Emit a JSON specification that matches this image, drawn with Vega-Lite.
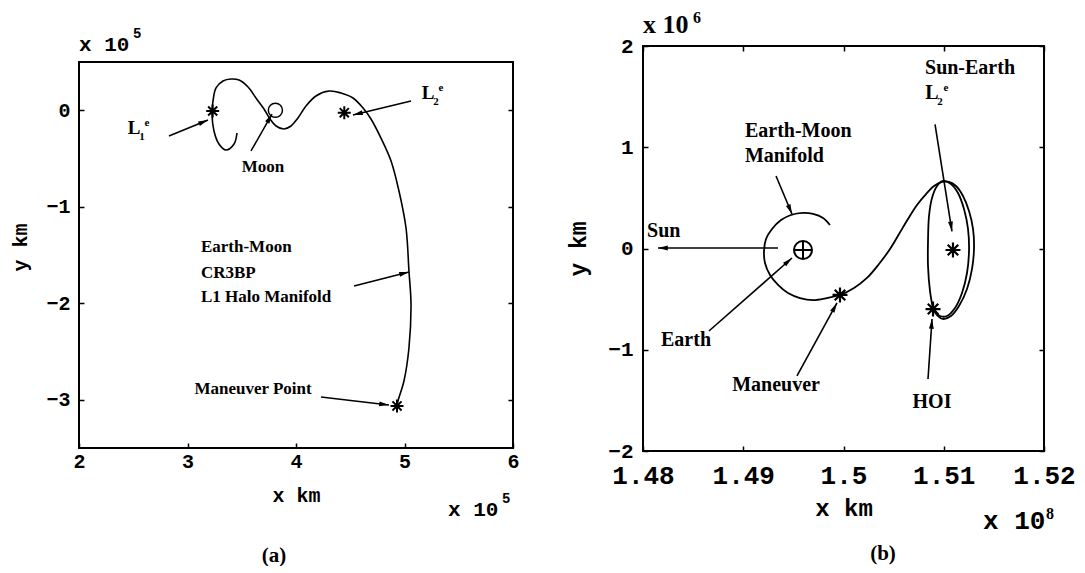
{
  "$schema": "https://vega.github.io/schema/vega-lite/v6.json",
  "background": "white",
  "padding": {"left": 10, "top": 9, "right": 0, "bottom": 0},
  "bounds": "flush",
  "spacing": 130,
  "config": {"view": {"stroke": null}, "axis": {"grid": false}},
  "hconcat": [
    {
      "width": 434,
      "height": 402,
      "resolve": {"axis": {"y": "independent"}},
      "layer": [
        {
          "data": {"values": [{}]},
          "mark": {"type": "rect", "fill": "transparent", "stroke": "black", "strokeWidth": 2},
          "encoding": {
            "x": {"datum": 2, "type": "quantitative", "scale": {"domain": [2, 6]}},
            "x2": {"datum": 6},
            "y": {"datum": -3.5, "type": "quantitative", "scale": {"domain": [-3.5, 0.6658]}, "axis": null},
            "y2": {"datum": 0.5}
          }
        },
        {
          "data": {"values": [
            {"i":0,"x":3.456,"y":-0.236},{"i":1,"x":3.429,"y":-0.350},{"i":2,"x":3.355,"y":-0.412},{"i":3,"x":3.290,"y":-0.350},
            {"i":4,"x":3.244,"y":-0.215},{"i":5,"x":3.226,"y":-0.039},{"i":6,"x":3.235,"y":0.096},{"i":7,"x":3.263,"y":0.231},
            {"i":8,"x":3.327,"y":0.303},{"i":9,"x":3.401,"y":0.324},{"i":10,"x":3.475,"y":0.313},{"i":11,"x":3.558,"y":0.241},
            {"i":12,"x":3.631,"y":0.127},{"i":13,"x":3.705,"y":0.013},{"i":14,"x":3.760,"y":-0.091},{"i":15,"x":3.816,"y":-0.163},
            {"i":16,"x":3.889,"y":-0.194},{"i":17,"x":3.954,"y":-0.163},{"i":18,"x":4.018,"y":-0.080},{"i":19,"x":4.092,"y":0.044},
            {"i":20,"x":4.184,"y":0.148},{"i":21,"x":4.304,"y":0.199},{"i":22,"x":4.415,"y":0.179},{"i":23,"x":4.525,"y":0.127},
            {"i":24,"x":4.618,"y":0.023},{"i":25,"x":4.691,"y":-0.091},{"i":26,"x":4.783,"y":-0.288},{"i":27,"x":4.876,"y":-0.526},
            {"i":28,"x":4.949,"y":-0.837},{"i":29,"x":5.014,"y":-1.220},{"i":30,"x":5.041,"y":-1.666},{"i":31,"x":5.060,"y":-2.008},
            {"i":32,"x":5.041,"y":-2.464},{"i":33,"x":4.995,"y":-2.806},{"i":34,"x":4.940,"y":-3.013},{"i":35,"x":4.931,"y":-3.065}
          ]},
          "mark": {"type": "line", "color": "black", "strokeWidth": 1.6, "interpolate": "catmull-rom"},
          "encoding": {
            "x": {"field": "x", "type": "quantitative", "scale": {"domain": [2, 6]},
              "axis": {"values": [2, 3, 4, 5, 6], "format": "d", "domain": false, "tickSize": -5, "tickWidth": 1.5, "tickColor": "black",
                "labelFont": "Liberation Mono", "labelFontWeight": "bold", "labelFontSize": 20, "labelColor": "black", "labelPadding": 8,
                "labelFlush": false, "labelOverlap": false,
                "title": "x km", "titleFont": "Liberation Mono", "titleFontWeight": "bold", "titleFontSize": 20, "titleColor": "black", "titlePadding": 14}},
            "y": {"field": "y", "type": "quantitative", "scale": {"domain": [-3.5, 0.6658]},
              "axis": {"values": [-3, -2, -1, 0], "format": "d", "domain": false, "tickSize": -5, "tickWidth": 1.5, "tickColor": "black",
                "labelFont": "Liberation Mono", "labelFontWeight": "bold", "labelFontSize": 20, "labelColor": "black", "labelPadding": 14,
                "labelFlush": false, "labelOverlap": false,
                "title": "y km", "titleFont": "Liberation Mono", "titleFontWeight": "bold", "titleFontSize": 20, "titleColor": "black", "titlePadding": 15}},
            "order": {"field": "i", "type": "quantitative"}
          }
        },
        {
          "data": {"values": [{"x": 3.81, "y": 0.0}]},
          "mark": {"type": "point", "shape": "circle", "size": 200, "filled": false, "color": "black", "strokeWidth": 1.5, "opacity": 1},
          "encoding": {
            "x": {"field": "x", "type": "quantitative", "scale": {"domain": [2, 6]}},
            "y": {"field": "y", "type": "quantitative", "scale": {"domain": [-3.5, 0.6658]},
              "axis": {"orient": "right", "values": [-3, -2, -1, 0], "labels": false, "domain": false, "tickSize": -5, "tickWidth": 1.5, "tickColor": "black", "title": null}}
          }
        },
        {
          "data": {"values": [{"x": 3.232, "y": -0.008}, {"x": 4.445, "y": -0.025}, {"x": 4.931, "y": -3.064}]},
          "mark": {"type": "point", "shape": "M0,-1L0,1M-1,0L1,0M-0.7,-0.7L0.7,0.7M-0.7,0.7L0.7,-0.7", "size": 169, "filled": false, "color": "black", "strokeWidth": 2, "opacity": 1},
          "encoding": {
            "x": {"field": "x", "type": "quantitative", "scale": {"domain": [2, 6]}},
            "y": {"field": "y", "type": "quantitative", "scale": {"domain": [-3.5, 0.6658]}, "axis": null}
          }
        },
        {
          "data": {"values": [
            {"x": 2.829, "y": -0.267, "x2": 3.189, "y2": -0.101, "ang": 67.7},
            {"x": 3.585, "y": -0.422, "x2": 3.779, "y2": -0.039, "ang": 29.6},
            {"x": 5.060, "y": 0.096, "x2": 4.525, "y2": -0.049, "ang": 256.4},
            {"x": 4.535, "y": -1.821, "x2": 5.041, "y2": -1.676, "ang": 75.7},
            {"x": 4.230, "y": -2.972, "x2": 4.857, "y2": -3.055, "ang": 96.7}
          ]},
          "layer": [
            {
              "mark": {"type": "rule", "color": "black", "strokeWidth": 1.5},
              "encoding": {
                "x": {"field": "x", "type": "quantitative", "scale": {"domain": [2, 6]}},
                "y": {"field": "y", "type": "quantitative", "scale": {"domain": [-3.5, 0.6658]}, "axis": null},
                "x2": {"field": "x2"},
                "y2": {"field": "y2"}
              }
            },
            {
              "mark": {"type": "point", "shape": "M0,0L0.4,1.6L-0.4,1.6Z", "size": 150, "filled": true, "color": "black", "opacity": 1},
              "encoding": {
                "x": {"field": "x2", "type": "quantitative", "scale": {"domain": [2, 6]}},
                "y": {"field": "y2", "type": "quantitative", "scale": {"domain": [-3.5, 0.6658]}, "axis": null},
                "angle": {"field": "ang", "type": "quantitative", "scale": null}
              }
            }
          ]
        },
        {
          "data": {"values": [
            {"x": 3.696, "y": -0.588, "t": "Moon"},
            {"x": 3.604, "y": -2.889, "t": "Maneuver Point"}
          ]},
          "mark": {"type": "text", "align": "center", "baseline": "middle", "font": "Liberation Serif", "fontWeight": "bold", "fontSize": 17, "color": "black"},
          "encoding": {
            "x": {"field": "x", "type": "quantitative", "scale": {"domain": [2, 6]}},
            "y": {"field": "y", "type": "quantitative", "scale": {"domain": [-3.5, 0.6658]}, "axis": null},
            "text": {"field": "t"}
          }
        },
        {
          "data": {"values": [
            {"x": 3.124, "y": -1.417, "t": "Earth-Moon"},
            {"x": 3.124, "y": -1.687, "t": "CR3BP"},
            {"x": 3.124, "y": -1.935, "t": "L1 Halo Manifold"}
          ]},
          "mark": {"type": "text", "align": "left", "baseline": "middle", "font": "Liberation Serif", "fontWeight": "bold", "fontSize": 17, "color": "black"},
          "encoding": {
            "x": {"field": "x", "type": "quantitative", "scale": {"domain": [2, 6]}},
            "y": {"field": "y", "type": "quantitative", "scale": {"domain": [-3.5, 0.6658]}, "axis": null},
            "text": {"field": "t"}
          }
        },
        {
          "data": {"values": [{"x": 2.507, "y": -0.184, "s": "1"}, {"x": 5.217, "y": 0.179, "s": "2"}]},
          "layer": [
            {
              "mark": {"type": "text", "text": "L", "align": "center", "baseline": "middle", "font": "Liberation Serif", "fontWeight": "bold", "fontSize": 19, "color": "black"},
              "encoding": {"x": {"field": "x", "type": "quantitative", "scale": {"domain": [2, 6]}}, "y": {"field": "y", "type": "quantitative", "scale": {"domain": [-3.5, 0.6658]}, "axis": null}}
            },
            {
              "mark": {"type": "text", "align": "center", "baseline": "middle", "dx": 8, "dy": 9, "font": "Liberation Serif", "fontWeight": "bold", "fontSize": 11, "color": "black"},
              "encoding": {"x": {"field": "x", "type": "quantitative", "scale": {"domain": [2, 6]}}, "y": {"field": "y", "type": "quantitative", "scale": {"domain": [-3.5, 0.6658]}, "axis": null}, "text": {"field": "s"}}
            },
            {
              "mark": {"type": "text", "text": "e", "align": "center", "baseline": "middle", "dx": 13, "dy": -5, "font": "Liberation Serif", "fontWeight": "bold", "fontSize": 11, "color": "black"},
              "encoding": {"x": {"field": "x", "type": "quantitative", "scale": {"domain": [2, 6]}}, "y": {"field": "y", "type": "quantitative", "scale": {"domain": [-3.5, 0.6658]}, "axis": null}}
            }
          ]
        },
        {
          "data": {"values": [{"x": 2.0, "y": 0.614, "b": "x 10", "e": "5"}, {"x": 5.401, "y": -4.205, "b": "x 10", "e": "5"}]},
          "layer": [
            {
              "mark": {"type": "text", "align": "left", "baseline": "alphabetic", "font": "Liberation Mono", "fontWeight": "bold", "fontSize": 21, "color": "black"},
              "encoding": {"x": {"field": "x", "type": "quantitative", "scale": {"domain": [2, 6]}}, "y": {"field": "y", "type": "quantitative", "scale": {"domain": [-3.5, 0.6658]}, "axis": null}, "text": {"field": "b"}}
            },
            {
              "mark": {"type": "text", "align": "left", "baseline": "alphabetic", "dx": 54, "dy": -13, "font": "Liberation Mono", "fontWeight": "bold", "fontSize": 14, "color": "black"},
              "encoding": {"x": {"field": "x", "type": "quantitative", "scale": {"domain": [2, 6]}}, "y": {"field": "y", "type": "quantitative", "scale": {"domain": [-3.5, 0.6658]}, "axis": null}, "text": {"field": "e"}}
            }
          ]
        },
        {
          "data": {"values": [{"x": 3.797, "y": -4.619, "t": "(a)"}]},
          "mark": {"type": "text", "align": "center", "baseline": "middle", "font": "Liberation Serif", "fontWeight": "bold", "fontSize": 21, "color": "black"},
          "encoding": {
            "x": {"field": "x", "type": "quantitative", "scale": {"domain": [2, 6]}},
            "y": {"field": "y", "type": "quantitative", "scale": {"domain": [-3.5, 0.6658]}, "axis": null},
            "text": {"field": "t"}
          }
        }
      ]
    },
    {
      "width": 401,
      "height": 405,
      "view": {"stroke": "black", "strokeWidth": 2},
      "resolve": {"axis": {"x": "independent", "y": "independent"}},
      "layer": [
        {
          "data": {"values": [
            {"i":0,"s":"t","x":1.49865,"y":0.232},{"i":1,"s":"t","x":1.49796,"y":0.301},{"i":2,"s":"t","x":1.49696,"y":0.341},
            {"i":3,"s":"t","x":1.49596,"y":0.351},{"i":4,"s":"t","x":1.49476,"y":0.331},{"i":5,"s":"t","x":1.49377,"y":0.281},
            {"i":6,"s":"t","x":1.49287,"y":0.193},{"i":7,"s":"t","x":1.49227,"y":0.094},{"i":8,"s":"t","x":1.49207,"y":-0.025},
            {"i":9,"s":"t","x":1.49217,"y":-0.143},{"i":10,"s":"t","x":1.49267,"y":-0.262},{"i":11,"s":"t","x":1.49347,"y":-0.360},
            {"i":12,"s":"t","x":1.49446,"y":-0.440},{"i":13,"s":"t","x":1.49566,"y":-0.489},{"i":14,"s":"t","x":1.49696,"y":-0.509},
            {"i":15,"s":"t","x":1.49835,"y":-0.489},{"i":16,"s":"t","x":1.49965,"y":-0.459},{"i":17,"s":"t","x":1.50105,"y":-0.390},
            {"i":18,"s":"t","x":1.50234,"y":-0.291},{"i":19,"s":"t","x":1.50354,"y":-0.153},{"i":20,"s":"t","x":1.50464,"y":-0.005},
            {"i":21,"s":"t","x":1.50554,"y":0.143},{"i":22,"s":"t","x":1.50643,"y":0.291},{"i":23,"s":"t","x":1.50733,"y":0.430},
            {"i":24,"s":"t","x":1.50823,"y":0.538},{"i":25,"s":"t","x":1.50903,"y":0.617},{"i":26,"s":"t","x":1.50983,"y":0.657},
            {"i":27,"s":"t","x":1.51052,"y":0.657},{"i":28,"s":"t","x":1.51122,"y":0.617},{"i":29,"s":"t","x":1.51192,"y":0.519},
            {"i":30,"s":"t","x":1.51252,"y":0.370},{"i":31,"s":"t","x":1.51292,"y":0.193},{"i":32,"s":"t","x":1.51302,"y":0.005},
            {"i":33,"s":"t","x":1.51282,"y":-0.202},{"i":34,"s":"t","x":1.51232,"y":-0.400},{"i":35,"s":"t","x":1.51152,"y":-0.568},
            {"i":36,"s":"t","x":1.51072,"y":-0.667},{"i":37,"s":"t","x":1.50993,"y":-0.696},{"i":38,"s":"t","x":1.50933,"y":-0.657},
            {"i":39,"s":"t","x":1.50893,"y":-0.598},
            {"i":0,"s":"h","x":1.50893,"y":-0.598},{"i":1,"s":"h","x":1.50863,"y":-0.420},{"i":2,"s":"h","x":1.50843,"y":-0.173},
            {"i":3,"s":"h","x":1.50843,"y":0.074},{"i":4,"s":"h","x":1.50853,"y":0.321},{"i":5,"s":"h","x":1.50883,"y":0.499},
            {"i":6,"s":"h","x":1.50933,"y":0.617},{"i":7,"s":"h","x":1.50993,"y":0.667},{"i":8,"s":"h","x":1.51072,"y":0.637},
            {"i":9,"s":"h","x":1.51142,"y":0.548},{"i":10,"s":"h","x":1.51202,"y":0.390},{"i":11,"s":"h","x":1.51242,"y":0.193},
            {"i":12,"s":"h","x":1.51252,"y":-0.025},{"i":13,"s":"h","x":1.51232,"y":-0.242},{"i":14,"s":"h","x":1.51182,"y":-0.440},
            {"i":15,"s":"h","x":1.51112,"y":-0.588},{"i":16,"s":"h","x":1.51032,"y":-0.667},{"i":17,"s":"h","x":1.50963,"y":-0.667},
            {"i":18,"s":"h","x":1.50903,"y":-0.607}
          ]},
          "mark": {"type": "line", "color": "black", "strokeWidth": 1.8, "interpolate": "catmull-rom"},
          "encoding": {
            "x": {"field": "x", "type": "quantitative", "scale": {"domain": [1.48, 1.52]},
              "axis": {"values": [1.48, 1.49, 1.5, 1.51, 1.52], "format": "~g", "domain": false, "tickSize": -5, "tickWidth": 1.5, "tickColor": "black",
                "labelFont": "Liberation Mono", "labelFontWeight": "bold", "labelFontSize": 26, "labelColor": "black", "labelPadding": 16,
                "labelFlush": false, "labelOverlap": false,
                "title": "x km", "titleFont": "Liberation Mono", "titleFontWeight": "bold", "titleFontSize": 24, "titleColor": "black", "titlePadding": 8}},
            "y": {"field": "y", "type": "quantitative", "scale": {"domain": [-2, 2]},
              "axis": {"values": [-2, -1, 0, 1, 2], "format": "d", "domain": false, "tickSize": -5, "tickWidth": 1.5, "tickColor": "black",
                "labelFont": "Liberation Mono", "labelFontWeight": "bold", "labelFontSize": 21, "labelColor": "black", "labelPadding": 15,
                "labelFlush": false, "labelOverlap": false,
                "title": "y km", "titleFont": "Liberation Mono", "titleFontWeight": "bold", "titleFontSize": 23, "titleColor": "black", "titlePadding": 17}},
            "detail": {"field": "s"},
            "order": {"field": "i", "type": "quantitative"}
          }
        },
        {
          "data": {"values": [{"x": 1.49596, "y": -0.015}]},
          "mark": {"type": "point", "shape": "M-1,0A1,1,0,1,0,1,0A1,1,0,1,0,-1,0ZM-1,0L1,0M0,-1L0,1", "size": 324, "filled": false, "color": "black", "strokeWidth": 2, "opacity": 1},
          "encoding": {
            "x": {"field": "x", "type": "quantitative", "scale": {"domain": [1.48, 1.52]},
              "axis": {"orient": "top", "values": [1.48, 1.49, 1.5, 1.51, 1.52], "labels": false, "domain": false, "tickSize": -5, "tickWidth": 1.5, "tickColor": "black", "title": null}},
            "y": {"field": "y", "type": "quantitative", "scale": {"domain": [-2, 2]},
              "axis": {"orient": "right", "values": [-2, -1, 0, 1, 2], "labels": false, "domain": false, "tickSize": -5, "tickWidth": 1.5, "tickColor": "black", "title": null}}
          }
        },
        {
          "data": {"values": [{"x": 1.51092, "y": -0.015}, {"x": 1.49965, "y": -0.459}, {"x": 1.50893, "y": -0.598}]},
          "mark": {"type": "point", "shape": "M0,-1L0,1M-1,0L1,0M-0.7,-0.7L0.7,0.7M-0.7,0.7L0.7,-0.7", "size": 225, "filled": false, "color": "black", "strokeWidth": 2.2, "opacity": 1},
          "encoding": {
            "x": {"field": "x", "type": "quantitative", "scale": {"domain": [1.48, 1.52]}, "axis": null},
            "y": {"field": "y", "type": "quantitative", "scale": {"domain": [-2, 2]}, "axis": null}
          }
        },
        {
          "data": {"values": [
            {"x": 1.50913, "y": 1.225, "x2": 1.51082, "y2": 0.170, "ang": 170.9},
            {"x": 1.49327, "y": 0.716, "x2": 1.49486, "y2": 0.341, "ang": 157.2},
            {"x": 1.49347, "y": 0.005, "x2": 1.48150, "y2": 0.005, "ang": 270},
            {"x": 1.48658, "y": -0.815, "x2": 1.49486, "y2": -0.094, "ang": 48.7},
            {"x": 1.49536, "y": -1.259, "x2": 1.49935, "y2": -0.538, "ang": 28.7},
            {"x": 1.50843, "y": -1.289, "x2": 1.50883, "y2": -0.696, "ang": 3.8}
          ]},
          "layer": [
            {
              "mark": {"type": "rule", "color": "black", "strokeWidth": 1.6},
              "encoding": {
                "x": {"field": "x", "type": "quantitative", "scale": {"domain": [1.48, 1.52]}, "axis": null},
                "y": {"field": "y", "type": "quantitative", "scale": {"domain": [-2, 2]}, "axis": null},
                "x2": {"field": "x2"},
                "y2": {"field": "y2"}
              }
            },
            {
              "mark": {"type": "point", "shape": "M0,0L0.4,1.6L-0.4,1.6Z", "size": 150, "filled": true, "color": "black", "opacity": 1},
              "encoding": {
                "x": {"field": "x2", "type": "quantitative", "scale": {"domain": [1.48, 1.52]}, "axis": null},
                "y": {"field": "y2", "type": "quantitative", "scale": {"domain": [-2, 2]}, "axis": null},
                "angle": {"field": "ang", "type": "quantitative", "scale": null}
              }
            }
          ]
        },
        {
          "data": {"values": [
            {"x": 1.48429, "y": -0.904, "t": "Earth"},
            {"x": 1.49327, "y": -1.348, "t": "Maneuver"},
            {"x": 1.50883, "y": -1.516, "t": "HOI"}
          ]},
          "mark": {"type": "text", "align": "center", "baseline": "middle", "font": "Liberation Serif", "fontWeight": "bold", "fontSize": 20, "color": "black"},
          "encoding": {
            "x": {"field": "x", "type": "quantitative", "scale": {"domain": [1.48, 1.52]}, "axis": null},
            "y": {"field": "y", "type": "quantitative", "scale": {"domain": [-2, 2]}, "axis": null},
            "text": {"field": "t"}
          }
        },
        {
          "data": {"values": [
            {"x": 1.50813, "y": 1.783, "t": "Sun-Earth"},
            {"x": 1.49017, "y": 1.160, "t": "Earth-Moon"},
            {"x": 1.49017, "y": 0.914, "t": "Manifold"},
            {"x": 1.4804, "y": 0.173, "t": "Sun"}
          ]},
          "mark": {"type": "text", "align": "left", "baseline": "middle", "font": "Liberation Serif", "fontWeight": "bold", "fontSize": 20, "color": "black"},
          "encoding": {
            "x": {"field": "x", "type": "quantitative", "scale": {"domain": [1.48, 1.52]}, "axis": null},
            "y": {"field": "y", "type": "quantitative", "scale": {"domain": [-2, 2]}, "axis": null},
            "text": {"field": "t"}
          }
        },
        {
          "data": {"values": [{"x": 1.50883, "y": 1.536, "s": "2"}]},
          "layer": [
            {
              "mark": {"type": "text", "text": "L", "align": "center", "baseline": "middle", "font": "Liberation Serif", "fontWeight": "bold", "fontSize": 20, "color": "black"},
              "encoding": {"x": {"field": "x", "type": "quantitative", "scale": {"domain": [1.48, 1.52]}, "axis": null}, "y": {"field": "y", "type": "quantitative", "scale": {"domain": [-2, 2]}, "axis": null}}
            },
            {
              "mark": {"type": "text", "align": "center", "baseline": "middle", "dx": 8, "dy": 9, "font": "Liberation Serif", "fontWeight": "bold", "fontSize": 11, "color": "black"},
              "encoding": {"x": {"field": "x", "type": "quantitative", "scale": {"domain": [1.48, 1.52]}, "axis": null}, "y": {"field": "y", "type": "quantitative", "scale": {"domain": [-2, 2]}, "axis": null}, "text": {"field": "s"}}
            },
            {
              "mark": {"type": "text", "text": "e", "align": "center", "baseline": "middle", "dx": 14, "dy": -5, "font": "Liberation Serif", "fontWeight": "bold", "fontSize": 11, "color": "black"},
              "encoding": {"x": {"field": "x", "type": "quantitative", "scale": {"domain": [1.48, 1.52]}, "axis": null}, "y": {"field": "y", "type": "quantitative", "scale": {"domain": [-2, 2]}, "axis": null}}
            }
          ]
        },
        {
          "data": {"values": [{"x": 1.48, "y": 2.128, "b": "x 10", "e": "6"}]},
          "layer": [
            {
              "mark": {"type": "text", "align": "left", "baseline": "alphabetic", "font": "Liberation Serif", "fontWeight": "bold", "fontSize": 26, "color": "black"},
              "encoding": {"x": {"field": "x", "type": "quantitative", "scale": {"domain": [1.48, 1.52]}, "axis": null}, "y": {"field": "y", "type": "quantitative", "scale": {"domain": [-2, 2]}, "axis": null}, "text": {"field": "b"}}
            },
            {
              "mark": {"type": "text", "align": "left", "baseline": "alphabetic", "dx": 50, "dy": -10, "font": "Liberation Serif", "fontWeight": "bold", "fontSize": 16, "color": "black"},
              "encoding": {"x": {"field": "x", "type": "quantitative", "scale": {"domain": [1.48, 1.52]}, "axis": null}, "y": {"field": "y", "type": "quantitative", "scale": {"domain": [-2, 2]}, "axis": null}, "text": {"field": "e"}}
            }
          ]
        },
        {
          "data": {"values": [{"x": 1.51392, "y": -2.770, "b": "x 10", "e": "8"}]},
          "layer": [
            {
              "mark": {"type": "text", "align": "left", "baseline": "alphabetic", "font": "Liberation Mono", "fontWeight": "bold", "fontSize": 26, "color": "black"},
              "encoding": {"x": {"field": "x", "type": "quantitative", "scale": {"domain": [1.48, 1.52]}, "axis": null}, "y": {"field": "y", "type": "quantitative", "scale": {"domain": [-2, 2]}, "axis": null}, "text": {"field": "b"}}
            },
            {
              "mark": {"type": "text", "align": "left", "baseline": "alphabetic", "dx": 63, "dy": -10, "font": "Liberation Serif", "fontWeight": "bold", "fontSize": 16, "color": "black"},
              "encoding": {"x": {"field": "x", "type": "quantitative", "scale": {"domain": [1.48, 1.52]}, "axis": null}, "y": {"field": "y", "type": "quantitative", "scale": {"domain": [-2, 2]}, "axis": null}, "text": {"field": "e"}}
            }
          ]
        },
        {
          "data": {"values": [{"x": 1.50394, "y": -3.017, "t": "(b)"}]},
          "mark": {"type": "text", "align": "center", "baseline": "middle", "font": "Liberation Serif", "fontWeight": "bold", "fontSize": 21, "color": "black"},
          "encoding": {
            "x": {"field": "x", "type": "quantitative", "scale": {"domain": [1.48, 1.52]}, "axis": null},
            "y": {"field": "y", "type": "quantitative", "scale": {"domain": [-2, 2]}, "axis": null},
            "text": {"field": "t"}
          }
        }
      ]
    }
  ]
}
